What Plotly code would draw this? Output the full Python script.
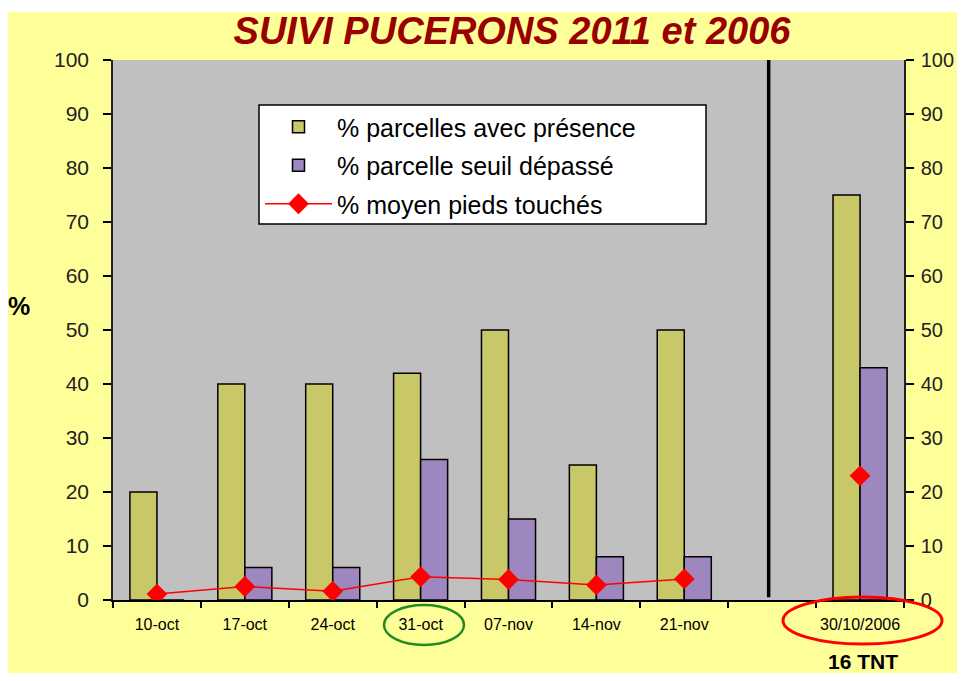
import plotly.graph_objects as go

categories = ["10-oct", "17-oct", "24-oct", "31-oct", "07-nov", "14-nov", "21-nov", " ", "30/10/2006"]
presence = [20, 40, 40, 42, 50, 25, 50, None, 75]
seuil = [0, 6, 6, 26, 15, 8, 8, None, 43]
pieds = [1.1, 2.5, 1.6, 4.3, 3.8, 2.8, 3.9, None, 23]
y_ticks = [0, 10, 20, 30, 40, 50, 60, 70, 80, 90, 100]

# page body has an 8px margin: figure origin sits at screen (8, 8)
OFF = 8
W, H = 949, 665
L, R, T, B = 105, 53, 52, 73
pw, ph = W - L - R, H - T - B

def px(sx):
    return (sx - OFF - L) / pw

def py(sy):
    return (H - B - (sy - OFF)) / ph

FONT = "Arial, Liberation Sans, sans-serif"

fig = go.Figure()
fig.add_trace(go.Bar(x=categories, y=presence, name="% parcelles avec présence",
                     marker=dict(color="#C8C868", line=dict(color="black", width=1.5)),
                     legendgroup="a"))
fig.add_trace(go.Bar(x=categories, y=seuil, name="% parcelle seuil dépassé",
                     marker=dict(color="#9E86BE", line=dict(color="black", width=1.5)),
                     legendgroup="b"))
fig.add_trace(go.Scatter(x=categories, y=pieds, name="% moyen pieds touchés",
                         mode="lines+markers", yaxis="y2", connectgaps=False,
                         line=dict(color="#FF0000", width=1.5),
                         marker=dict(symbol="diamond", size=16, color="#FF0000"),
                         legendgroup="c"))

axis_font = dict(family=FONT, size=21, color="#222222")
fig.update_layout(
    width=W, height=H,
    margin=dict(l=L, r=R, t=T, b=B, autoexpand=False),
    paper_bgcolor="#FFFF99",
    plot_bgcolor="#C0C0C0",
    barmode="group", bargap=0.385, bargroupgap=0,
    showlegend=True,
    legend=dict(x=px(260), y=py(104), xanchor="left", yanchor="top",
                bgcolor="rgba(0,0,0,0)", borderwidth=0,
                font=dict(family=FONT, size=25, color="black"),
                traceorder="grouped", tracegroupgap=3, itemwidth=67),
    title=dict(text="SUIVI PUCERONS 2011 et 2006", x=(512 - OFF) / W, xanchor="center",
               y=1 - (31 - OFF) / H, yanchor="middle",
               font=dict(family=FONT, size=38, color="#990000", weight="bold", style="italic")),
    xaxis=dict(type="category", categoryorder="array", categoryarray=categories,
               range=[-0.5, len(categories) - 0.5], automargin=False, tickangle=0,
               showline=True, linecolor="black", linewidth=1.5,
               ticks="outside", tickson="boundaries", ticklen=6, tickcolor="black", tickwidth=1.5,
               tickfont=dict(family=FONT, size=16, color="black"), ticklabelstandoff=9,
               showgrid=False),
    yaxis=dict(range=[0, 100], tickvals=y_ticks, automargin=False,
               showline=True, linecolor="#222222", linewidth=1.5,
               ticks="outside", ticklen=8, tickcolor="black", tickwidth=1.5,
               tickfont=axis_font, ticklabelstandoff=10, showgrid=False, zeroline=False),
    yaxis2=dict(range=[0, 100], tickvals=y_ticks, overlaying="y", side="right", anchor="x",
                automargin=False, showline=True, linecolor="#222222", linewidth=1.5,
                ticks="outside", ticklen=8, tickcolor="black", tickwidth=1.5,
                tickfont=dict(family=FONT, size=20, color="#222222"), ticklabelstandoff=3,
                showgrid=False, zeroline=False),
    shapes=[
        # white strip above the yellow slide area
        dict(type="rect", xref="paper", yref="paper", x0=px(0), x1=px(W + 2 * OFF), y0=py(12), y1=py(0),
             fillcolor="white", line=dict(width=0), layer="below"),
        # legend frame
        dict(type="rect", xref="paper", yref="paper", x0=px(259), x1=px(706), y0=py(224), y1=py(105),
             fillcolor="white", line=dict(color="black", width=1.5), layer="above"),
        # separator between 2011 and 2006
        dict(type="line", xref="x", yref="y", x0=6.96, x1=6.96, y0=0.5, y1=100.5,
             line=dict(color="black", width=3.5)),
        # ellipses
        dict(type="circle", xref="paper", yref="paper", x0=px(384), x1=px(464), y0=py(645), y1=py(605),
             line=dict(color="#228B22", width=2.5)),
        dict(type="circle", xref="paper", yref="paper", x0=px(783), x1=px(942), y0=py(644), y1=py(597),
             line=dict(color="#FF0000", width=3)),
    ],
    annotations=[
        dict(text="<b>%</b>", xref="paper", yref="paper", x=px(19), y=py(306),
             xanchor="center", yanchor="middle",
             showarrow=False, font=dict(family=FONT, size=25, color="black")),
        dict(text="<b>16 TNT</b>", xref="paper", yref="paper", x=px(863), y=py(662),
             xanchor="center", yanchor="middle",
             showarrow=False, font=dict(family=FONT, size=21, color="black")),
    ],
)

fig.write_html("out.html")
